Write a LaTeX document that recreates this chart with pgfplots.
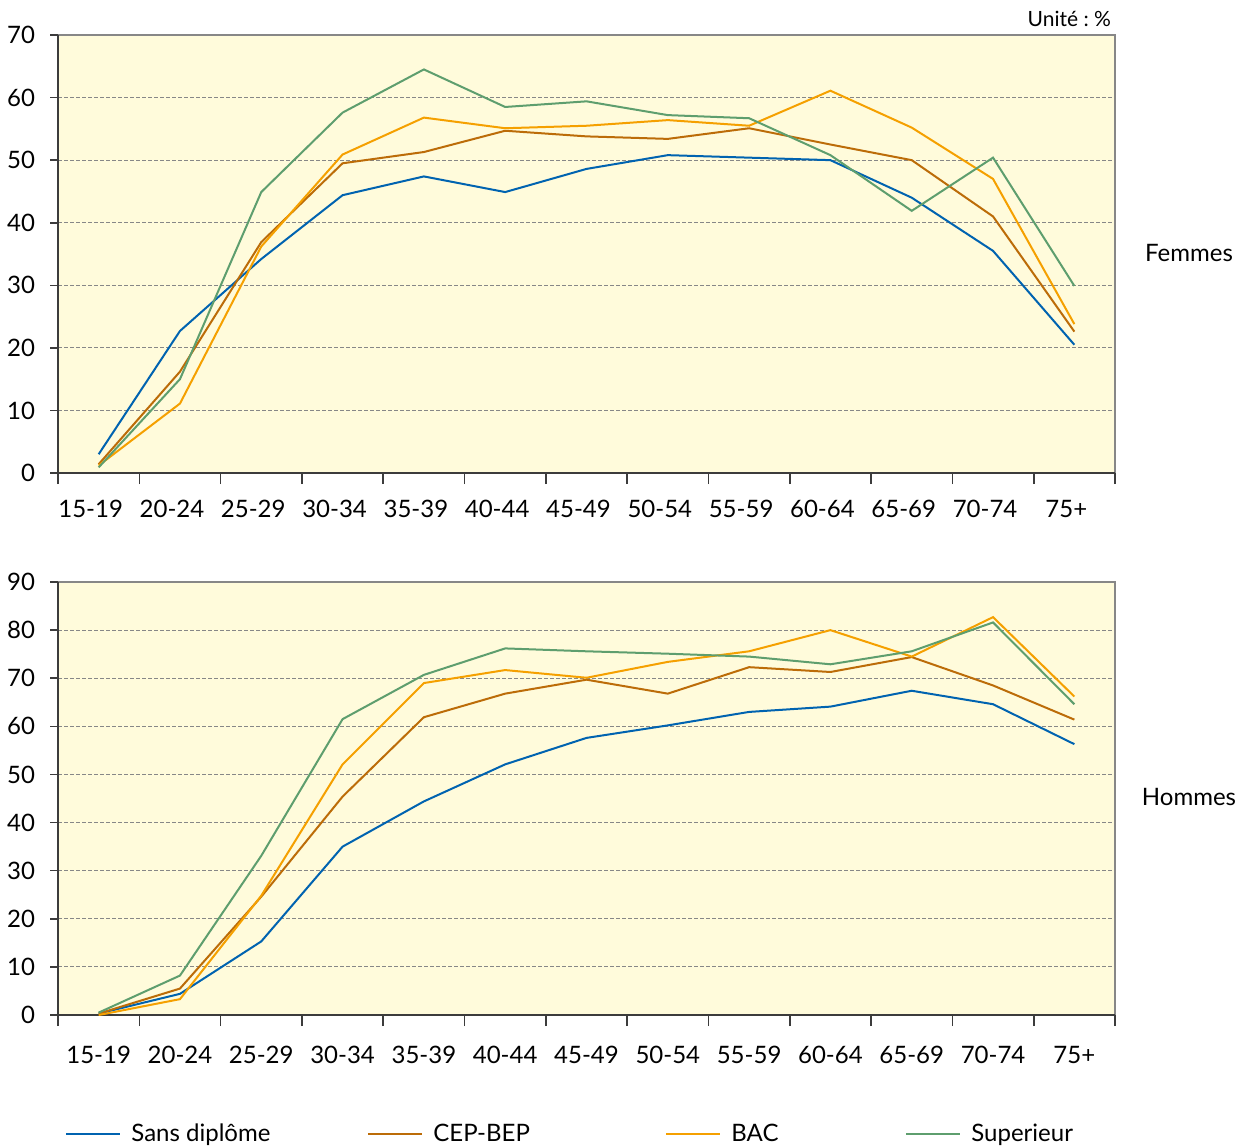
\documentclass[border=0pt]{standalone}
\usepackage{pgfplots}
\pgfplotsset{compat=1.18}
\usepackage{pgfplotstable}
\usepackage{fontspec}
\setmainfont{Lato}

\definecolor{cSans}{RGB}{0,99,176}
\definecolor{cCep}{RGB}{188,108,8}
\definecolor{cBac}{RGB}{245,160,0}
\definecolor{cSup}{RGB}{94,158,110}
\definecolor{bgyellow}{RGB}{255,251,219}
\definecolor{framegray}{RGB}{135,135,135}
\definecolor{axisdark}{RGB}{60,60,60}

% x = classe d'age (0 = 15-19, ..., 12 = 75+)
\pgfplotstableread{
x  sans  cep   bac   sup
0  3.0   1.4   1.2   0.9
1  22.7  16.2  11.1  15.0
2  34.2  36.9  36.2  44.9
3  44.4  49.5  50.9  57.6
4  47.4  51.3  56.8  64.5
5  44.9  54.7  55.1  58.5
6  48.6  53.8  55.5  59.4
7  50.8  53.4  56.4  57.2
8  50.4  55.1  55.5  56.7
9  50.0  52.5  61.1  50.8
10 44.0  50.0  55.2  41.9
11 35.5  41.0  47.0  50.4
12 20.5  22.6  23.8  29.9
}\femmes

\pgfplotstableread{
x  sans  cep   bac   sup
0  0.3   0.3   0.0   0.5
1  4.4   5.5   3.3   8.2
2  15.3  24.6  24.8  33.1
3  35.0  45.4  52.1  61.5
4  44.4  61.9  69.0  70.7
5  52.1  66.8  71.7  76.2
6  57.6  69.7  70.1  75.6
7  60.2  66.8  73.4  75.1
8  63.0  72.3  75.6  74.5
9  64.1  71.3  80.0  72.9
10 67.4  74.4  74.5  75.6
11 64.6  68.5  82.7  81.6
12 56.3  61.4  66.2  64.6
}\hommes

\pgfplotsset{
  agestyle/.style={
    scale only axis, width=528.5pt,
    xmin=-0.5, xmax=12.5, ymin=0,
    clip=false,
    axis x line*=bottom, axis y line*=left,
    axis line style={-, draw=axisdark, line width=1pt},
    axis background/.style={fill=bgyellow, draw=framegray, line width=1pt},
    xtick={0,...,12},
    xticklabels={15-19,20-24,25-29,30-34,35-39,40-44,45-49,50-54,55-59,60-64,65-69,70-74,75+},
    minor xtick={-0.5,0.5,1.5,2.5,3.5,4.5,5.5,6.5,7.5,8.5,9.5,10.5,11.5,12.5},
    major x tick style={draw=none},
    minor x tick style={draw=axisdark, line width=0.8pt},
    ytick style={draw=axisdark, line width=0.8pt},
    tick align=outside,
    major tick length=4pt, minor tick length=5.5pt,
    ymajorgrids,
    major grid style={draw=framegray, line width=0.5pt, dash pattern=on 1.8pt off 1.2pt},
    tick label style={font=\fontsize{12}{14}\selectfont},
    /pgf/number format/assume math mode=true,
    yticklabel style={xshift=-4pt},
    every axis plot/.append style={line width=1pt},
  }
}

\begin{document}
\begin{tikzpicture}
\useasboundingbox (0,0) rectangle (620.5pt,-573.5pt);

\begin{axis}[agestyle,
  at={(29pt,-236.5pt)}, anchor=south west,
  height=219pt, ymax=70, ytick={0,10,...,70},
  xticklabel style={yshift=-6pt, xshift=-4pt},
]
\addplot[cSans] table[x=x, y=sans] {\femmes};
\addplot[cCep]  table[x=x, y=cep]  {\femmes};
\addplot[cBac]  table[x=x, y=bac]  {\femmes};
\addplot[cSup]  table[x=x, y=sup]  {\femmes};
\node[anchor=east, font=\fontsize{10.5}{12}\selectfont] at (rel axis cs:1,1) [xshift=1.5pt, yshift=8pt] {Unité~:~\%};
\node[font=\fontsize{12}{14}\selectfont] at (rel axis cs:1,0.502) [xshift=37pt] {Femmes};
\end{axis}

\begin{axis}[agestyle,
  at={(29pt,-507.5pt)}, anchor=south west,
  height=216.5pt, ymax=90, ytick={0,10,...,90},
  xticklabel style={yshift=-8pt},
  legend columns=4,
  legend style={at={(0,0)}, anchor=west, xshift=3.5pt, yshift=-59.5pt,
    draw=none, fill=none, inner sep=0pt,
    font=\fontsize{12}{14}\selectfont,
    nodes={inner sep=0pt},
    /tikz/every odd column/.append style={column sep=5pt}},
  legend image code/.code={\draw[#1, line width=1pt] (0pt,0pt) -- (27pt,0pt);},
]
\addplot[cSans] table[x=x, y=sans] {\hommes};
\addlegendentry{\makebox[118pt][l]{Sans diplôme}}
\addplot[cCep]  table[x=x, y=cep]  {\hommes};
\addlegendentry{\makebox[116pt][l]{CEP-BEP}}
\addplot[cBac]  table[x=x, y=bac]  {\hommes};
\addlegendentry{\makebox[87pt][l]{BAC}}
\addplot[cSup]  table[x=x, y=sup]  {\hommes};
\addlegendentry{Superieur}
\node[font=\fontsize{12}{14}\selectfont] at (rel axis cs:1,0.503) [xshift=37pt] {Hommes};
\end{axis}
\end{tikzpicture}
\end{document}
